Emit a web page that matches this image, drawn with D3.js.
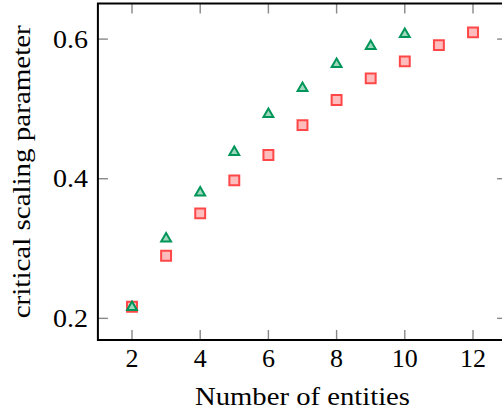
<!DOCTYPE html>
<html><head><meta charset="utf-8">
<script src="https://cdn.jsdelivr.net/npm/d3@7"></script>
<style>body{margin:0;background:#fff}svg{display:block}
text{font-family:"Liberation Serif","Times New Roman",Times,"DejaVu Serif","Noto Serif",serif;}</style>
</head><body>
<svg id="c" width="502" height="414"></svg>
<script>
const squareX = [2,3,4,5,6,7,8,9,10,11,12];
const squareY = [0.2166,0.2897,0.3504,0.3976,0.4339,0.4768,0.5127,0.5437,0.5681,0.5914,0.6096];
const triX = [2,3,4,5,6,7,8,9,10];
const triY = [0.2160,0.3143,0.3800,0.4380,0.4926,0.5298,0.5642,0.5900,0.6070];
const xTicks = [2,4,6,8,10,12];
const yTicks = [0.2,0.4,0.6];
const xLabel = "Number of entities";
const yLabel = "critical scaling parameter";

const svg = d3.select("#c");
const x = d3.scaleLinear().domain([1,13]).range([97.9,507.1]);
const y = d3.scaleLinear().domain([0.169,0.651]).range([340,3.5]);
const [x0,x1] = x.range(), [y0,y1] = y.range();

// ticks (inward, mirrored)
const tc = "#888", tl = 10;
const g = svg.append("g");
xTicks.forEach(v=>{
  g.append("line").attr("x1",x(v)).attr("x2",x(v)).attr("y1",y0).attr("y2",y0-tl).attr("stroke",tc).attr("stroke-width",1.4);
  g.append("line").attr("x1",x(v)).attr("x2",x(v)).attr("y1",y1).attr("y2",y1+tl).attr("stroke",tc).attr("stroke-width",1.4);
  svg.append("text").attr("x",x(v)).attr("y",367).attr("text-anchor","middle")
    .attr("font-size",25).attr("textLength",String(v).length*13).attr("lengthAdjust","spacingAndGlyphs").text(v);
});
yTicks.forEach(v=>{
  g.append("line").attr("x1",x0).attr("x2",x0+tl).attr("y1",y(v)).attr("y2",y(v)).attr("stroke",tc).attr("stroke-width",1.4);
  g.append("line").attr("x1",x1).attr("x2",x1-tl).attr("y1",y(v)).attr("y2",y(v)).attr("stroke",tc).attr("stroke-width",1.4);
  svg.append("text").attr("x",88).attr("y",y(v)+8.5).attr("text-anchor","end")
    .attr("font-size",25).attr("textLength",35).attr("lengthAdjust","spacingAndGlyphs").text(d3.format(".1f")(v));
});

// box
svg.append("rect").attr("x",x0).attr("y",y1).attr("width",x1-x0).attr("height",y0-y1)
  .attr("fill","none").attr("stroke","#000").attr("stroke-width",2);

// squares
svg.append("g").selectAll("path").data(squareX.map((d,i)=>[d,squareY[i]])).join("path")
  .attr("d", d3.symbol(d3.symbolSquare, 98)())
  .attr("transform", d=>`translate(${x(d[0])},${y(d[1])})`)
  .attr("fill","#ffbcbc").attr("stroke","#ff4747").attr("stroke-width",2);

// triangles
svg.append("g").selectAll("path").data(triX.map((d,i)=>[d,triY[i]])).join("path")
  .attr("d", d3.symbol(d3.symbolTriangle, 42)())
  .attr("transform", d=>`translate(${x(d[0])},${y(d[1])})`)
  .attr("fill","#9fd8bd").attr("stroke","#00965a").attr("stroke-width",2);

// axis labels
svg.append("text").attr("x",302.5).attr("y",405).attr("text-anchor","middle")
  .attr("font-size",25).attr("textLength",215).attr("lengthAdjust","spacingAndGlyphs").text(xLabel);
svg.append("text").attr("transform",`translate(30,${(y0+y1)/2}) rotate(-90)`).attr("text-anchor","middle")
  .attr("font-size",25).attr("textLength",293).attr("lengthAdjust","spacingAndGlyphs").text(yLabel);
</script>
</body></html>
